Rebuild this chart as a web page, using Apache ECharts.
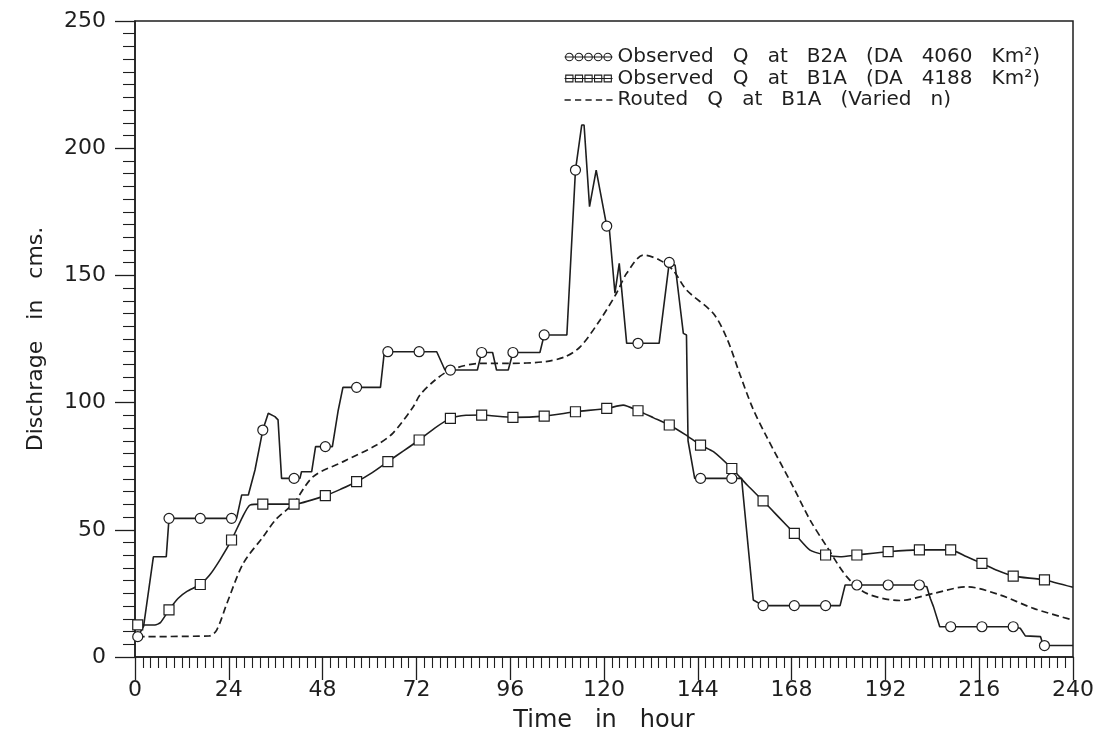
<!DOCTYPE html>
<html>
<head>
<meta charset="utf-8">
<script src="https://cdn.jsdelivr.net/npm/echarts@6/dist/echarts.min.js"></script>
<style>
  html, body { margin: 0; padding: 0; background: #ffffff; }
  #chart { width: 1106px; height: 746px; }
</style>
</head>
<body>
<div id="chart"></div>
<script>
// Hydrograph: observed discharge at two stations and the routed flow (hours vs cms)
const seriesNames = [
  'Observed   Q   at   B2A   (DA   4060   Km\u00B2)',
  'Observed   Q   at   B1A   (DA   4188   Km\u00B2)',
  'Routed   Q   at   B1A   (Varied   n)'
];

// Hours at which the observed series carry a plotting symbol
const markerHours = [0.7, 8.7, 16.7, 24.7, 32.7, 40.7, 48.7, 56.7, 64.7, 72.7,
  80.7, 88.7, 96.7, 104.7, 112.7, 120.7, 128.7, 136.7, 144.7, 152.7,
  160.7, 168.7, 176.7, 184.7, 192.7, 200.7, 208.7, 216.7, 224.7, 232.7];

// Observed Q at B2A: [hour, discharge]
const b2aQ = [
  [0.7, 8], [2.2, 12], [4.7, 39.4], [8.0, 39.4], [8.7, 54.5], [16.7, 54.5],
  [24.7, 54.5], [26.0, 54.5], [27.3, 63.7], [29.0, 63.7], [30.7, 73.5], [31.1, 73.5],
  [32.7, 89.2], [34.1, 95.8], [35.8, 94.5], [36.6, 93.2], [37.5, 70.2], [40.7, 70.2],
  [42.2, 70.2], [42.6, 72.8], [45.2, 72.8], [46.2, 82.7], [48.7, 82.7], [50.5, 82.7],
  [52.0, 97], [53.2, 106], [56.7, 106], [62.8, 106], [63.8, 120], [64.7, 120],
  [72.7, 120], [77.2, 120], [79.3, 112.8], [80.7, 112.8], [87.6, 112.8], [88.7, 119.7],
  [91.5, 119.7], [92.5, 112.8], [95.5, 112.8], [96.7, 119.7], [103.6, 119.7], [104.7, 126.6],
  [110.5, 126.6], [112.7, 191.4], [114.3, 209.1], [114.9, 209.1], [116.3, 177], [118.0, 191.4],
  [120.7, 169.4], [121.3, 169.4], [122.8, 143], [123.9, 154.7], [125.8, 123.3], [128.7, 123.3],
  [134.1, 123.3], [136.7, 155.1], [138.2, 154], [140.3, 127.2], [141.1, 126.6], [141.5, 85],
  [143.2, 70.2], [144.7, 70.2], [152.7, 70.2], [155.2, 70.2], [158.2, 22.4], [160.7, 20.2],
  [168.7, 20.2], [176.7, 20.2], [180.4, 20.2], [181.7, 28.3], [184.7, 28.3], [192.7, 28.3],
  [200.7, 28.3], [202.6, 27.6], [203.5, 23], [204.3, 19.8], [205.9, 11.9], [208.7, 11.9],
  [216.7, 11.9], [224.7, 11.9], [226.5, 11.3], [227.8, 8.3], [231.7, 8.0], [232.4, 4.5],
  [232.7, 4.5], [240, 4.5]
];

// Observed Q at B1A: [hour, discharge]
const b1aQ = [
  [0.7, 12.6], [5.1, 12.6], [6.5, 13.5], [8.7, 18.5], [11.0, 23], [13.2, 25.7],
  [16.7, 28.5], [19.0, 32], [21.7, 38.1], [24.7, 46], [27.5, 55], [29.4, 59.7],
  [32.7, 60.1], [40.7, 60.1], [48.7, 63.4], [52.7, 66], [56.7, 68.9], [60.7, 72.5],
  [64.7, 76.8], [68.7, 81], [72.7, 85.3], [76.7, 90], [80.7, 93.8], [84.7, 95],
  [88.7, 95.1], [96.7, 94.2], [104.7, 94.7], [112.7, 96.4], [120.7, 97.7], [124.9, 99],
  [128.7, 96.8], [132.7, 94], [136.7, 91.2], [140.7, 87.5], [144.7, 83.3], [148.0, 80.7],
  [152.7, 74.1], [156.7, 67.5], [160.7, 61.4], [164.7, 55], [168.7, 48.6], [172.7, 42],
  [176.7, 40.1], [180.4, 39.4], [184.7, 40.1], [192.7, 41.4], [200.7, 42.1], [208.7, 42.1],
  [212.7, 39.5], [216.7, 36.8], [220.7, 34], [224.7, 31.8], [232.7, 30.3], [240, 27.4]
];

// Routed Q at B1A (varied n): [hour, discharge]
const routedQ = [
  [0.7, 8], [19.0, 8.3], [20.9, 10.6], [23.5, 21], [27.7, 36.8], [32.8, 47.3],
  [36.0, 54], [40.5, 60.3], [45.6, 70.9], [53.3, 76.8], [61.8, 83.3], [66.0, 88],
  [71.2, 98.4], [72.9, 103], [76.5, 108.5], [80.7, 112.8], [88.3, 115.4], [95.5, 115.4],
  [105.0, 116.1], [110.0, 118], [113.9, 121.9], [119.0, 132.5], [123.2, 143], [125.8, 150.8],
  [130.1, 158], [134.3, 156], [137.7, 152], [141.1, 144.3], [148.0, 135], [151.5, 125],
  [154.8, 111], [158.0, 98], [161.6, 86.6], [168.4, 66.9], [172.7, 53.9], [177.0, 43.4],
  [182.1, 31.6], [187.2, 25], [195.7, 22.2], [204.3, 25], [212.8, 27.6], [221.3, 24.4],
  [229.9, 19.1], [240, 14.5]
];

const xRange = [0, 240, 24];   // min, max, major step (hours)
const yRange = [0, 250, 50];   // min, max, major step (cms)

const ink = '#1e1e1e';
const font = 'DejaVu Sans, Liberation Sans, sans-serif';

// legend glyphs: a row of circles / squares threaded on a line, and short dashes
function circleRow() {
  let p = 'M0,4 L48,4';
  for (let i = 0; i < 5; i++) {
    const cx = 4.8 + i * 9.6;
    p += ' M' + (cx - 3.8) + ',4 A3.8,3.8 0 1,0 ' + (cx + 3.8) + ',4 A3.8,3.8 0 1,0 ' + (cx - 3.8) + ',4';
  }
  return 'path://' + p;
}
function squareRow() {
  let p = 'M0,4 L48,4';
  for (let i = 0; i < 5; i++) {
    const x0 = 1.2 + i * 9.6;
    p += ' M' + x0 + ',0.6 L' + (x0 + 7.2) + ',0.6 L' + (x0 + 7.2) + ',7.4 L' + x0 + ',7.4 Z';
  }
  return 'path://M0,0 L0,0 ' + p + ' M48,8 L48,8';
}
function dashRow() {
  let p = '';
  for (let i = 0; i < 5; i++) {
    const x0 = i * 10;
    p += 'M' + x0 + ',0 L' + (x0 + 6) + ',0 L' + (x0 + 6) + ',1.4 L' + x0 + ',1.4 Z ';
  }
  return 'path://' + p.trim();
}

const symbolAt = (shape) => (val) => markerHours.indexOf(val[0]) >= 0 ? shape : 'none';

const chart = echarts.init(document.getElementById('chart'), null, { renderer: 'canvas' });

chart.setOption({
  animation: false,
  backgroundColor: '#ffffff',
  grid: {
    left: 135, right: 33, top: 21, bottom: 89,
    show: true, borderColor: ink, borderWidth: 1.5, backgroundColor: 'transparent'
  },
  legend: {
    orient: 'vertical',
    left: 559, top: 42,
    itemWidth: 48, itemHeight: 8, itemGap: 1.5,
    selectedMode: false,
    textStyle: { fontFamily: font, fontSize: 20, color: ink, lineHeight: 20 },
    data: [
      { name: seriesNames[0], icon: circleRow(),
        itemStyle: { color: 'transparent', borderColor: ink, borderWidth: 1.1 } },
      { name: seriesNames[1], icon: squareRow(),
        itemStyle: { color: 'transparent', borderColor: ink, borderWidth: 1.1 } },
      { name: seriesNames[2], icon: dashRow(),
        itemStyle: { color: ink, borderWidth: 0 } }
    ]
  },
  xAxis: {
    type: 'value',
    min: xRange[0], max: xRange[1], interval: xRange[2],
    name: 'Time   in   hour',
    nameLocation: 'middle', nameGap: 52,
    nameTextStyle: { fontFamily: font, fontSize: 24, color: ink },
    axisLine: { show: true, lineStyle: { color: ink, width: 1.5 } },
    axisTick: { show: true, inside: false, length: 23, lineStyle: { color: ink, width: 1.3 } },
    minorTick: { show: true, splitNumber: 12, length: 11, lineStyle: { color: ink, width: 1.1 } },
    splitLine: { show: false },
    axisLabel: { fontFamily: font, fontSize: 22, color: ink, margin: 22 }
  },
  yAxis: {
    type: 'value',
    min: yRange[0], max: yRange[1], interval: yRange[2],
    name: 'Dischrage   in   cms.',
    nameLocation: 'middle', nameGap: 88, nameRotate: 90,
    nameTextStyle: { fontFamily: font, fontSize: 22, color: ink },
    axisLine: { show: true, lineStyle: { color: ink, width: 1.5 } },
    axisTick: { show: true, inside: false, length: 20, lineStyle: { color: ink, width: 1.3 } },
    minorTick: { show: true, splitNumber: 10, length: 12, lineStyle: { color: ink, width: 1.1 } },
    splitLine: { show: false },
    axisLabel: { fontFamily: font, fontSize: 22, color: ink, margin: 29 }
  },
  series: [
    {
      name: seriesNames[0], type: 'line', data: b2aQ,
      symbol: symbolAt('circle'), symbolSize: 10,
      itemStyle: { color: '#ffffff', borderColor: ink, borderWidth: 1.2 },
      lineStyle: { color: ink, width: 1.6 },
      z: 3
    },
    {
      name: seriesNames[1], type: 'line', data: b1aQ,
      symbol: symbolAt('rect'), symbolSize: 10,
      itemStyle: { color: '#ffffff', borderColor: ink, borderWidth: 1.2 },
      lineStyle: { color: ink, width: 1.6 },
      smooth: 0.2,
      z: 3
    },
    {
      name: seriesNames[2], type: 'line', data: routedQ,
      symbol: 'none',
      itemStyle: { color: ink },
      lineStyle: { color: ink, width: 1.7, type: [7, 4] },
      smooth: 0.3,
      z: 2
    }
  ]
});
</script>
</body>
</html>
